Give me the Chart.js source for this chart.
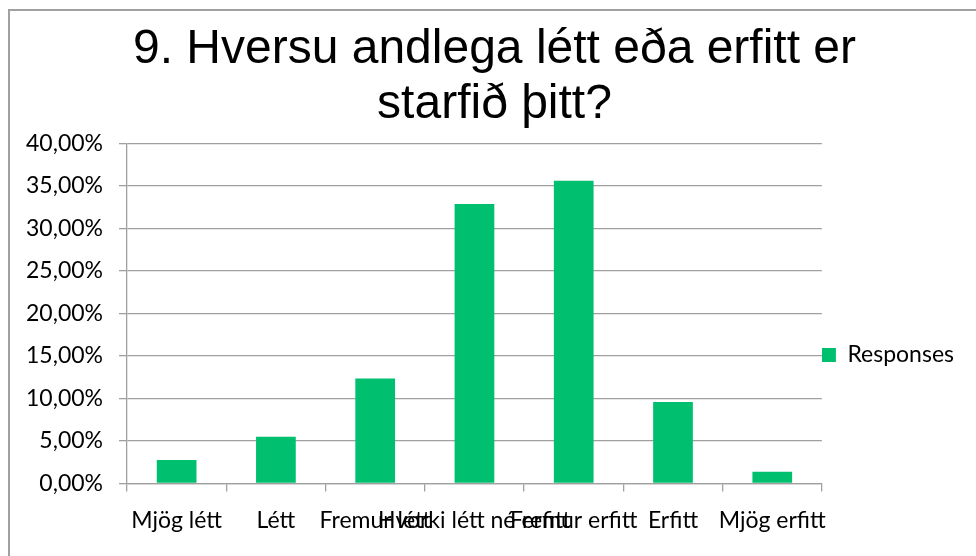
<!DOCTYPE html>
<html>
<head>
<meta charset="utf-8">
<script src="https://cdn.jsdelivr.net/npm/chart.js@4/dist/chart.umd.min.js"></script>
<style>
  html, body { margin: 0; padding: 0; background: #ffffff; }
  #wrap { position: relative; width: 976px; height: 556px; }
  canvas { display: block; }
</style>
</head>
<body>
<div id="wrap"><canvas id="c" width="976" height="556"></canvas></div>
<script>
const titleLines = ['9. Hversu andlega létt eða erfitt er', 'starfið þitt?'];
const categories = ['Mjög létt', 'Létt', 'Fremur létt', 'Hvorki létt né erfitt', 'Fremur erfitt', 'Erfitt', 'Mjög erfitt'];
const seriesName = 'Responses';
const responses = [2.74, 5.48, 12.33, 32.88, 35.62, 9.59, 1.37];
const yTickMin = 0;
const yTickMax = 40;
const yTickStep = 5;

const GREEN = '#00BF6F';
const GRID = '#A0A0A0';
const TICK_FONT = { family: 'Lato', size: 23 };

const borderPlugin = {
  id: 'frame',
  beforeDraw(chart) {
    const ctx = chart.ctx;
    ctx.save();
    ctx.fillStyle = '#ffffff';
    ctx.fillRect(0, 0, chart.width, chart.height);
    ctx.strokeStyle = '#A0A0A0';
    ctx.lineWidth = 2;
    ctx.beginPath();
    ctx.moveTo(chart.width, 10);
    ctx.lineTo(9, 10);
    ctx.lineTo(9, chart.height);
    ctx.stroke();
    ctx.restore();
  }
};

new Chart(document.getElementById('c'), {
  type: 'bar',
  data: {
    labels: categories,
    datasets: [{
      label: seriesName,
      data: responses,
      backgroundColor: GREEN,
      borderWidth: 0,
      barPercentage: 0.4,
      categoryPercentage: 1.0
    }]
  },
  options: {
    responsive: false,
    animation: false,
    devicePixelRatio: 1,
    layout: { padding: { left: 25, right: 12, top: 0, bottom: 7 } },
    plugins: {
      title: {
        display: true,
        text: titleLines,
        color: '#000000',
        font: { family: 'Liberation Sans', size: 48, weight: 'normal', lineHeight: 1.15 },
        padding: { top: 22, bottom: 11 }
      },
      legend: {
        display: true,
        position: 'right',
        title: {
          display: true,
          text: '',
          font: { size: 1, lineHeight: 1 },
          padding: { top: 160, bottom: 0 }
        },
        labels: {
          color: '#000000',
          font: TICK_FONT,
          boxWidth: 14,
          boxHeight: 14,
          padding: 0
        }
      },
      tooltip: { enabled: false }
    },
    scales: {
      x: {
        grid: {
          display: true,
          offset: true,
          drawOnChartArea: false,
          drawTicks: true,
          tickLength: 8,
          color: GRID,
          lineWidth: 1.3
        },
        border: { display: true, color: GRID, width: 1.3 },
        ticks: {
          color: '#000000',
          font: TICK_FONT,
          autoSkip: false,
          maxRotation: 0,
          minRotation: 0,
          padding: 15
        }
      },
      y: {
        min: yTickMin,
        max: yTickMax,
        afterFit(scale) { scale.width = 102; },
        grid: {
          color: GRID,
          lineWidth: 1.3,
          drawTicks: true,
          tickLength: 8
        },
        border: { display: true, color: GRID, width: 1.3 },
        ticks: {
          stepSize: yTickStep,
          color: '#000000',
          font: TICK_FONT,
          padding: 16,
          callback: (v) => v.toFixed(2).replace('.', ',') + '%'
        }
      }
    }
  },
  plugins: [borderPlugin]
});
</script>
</body>
</html>
